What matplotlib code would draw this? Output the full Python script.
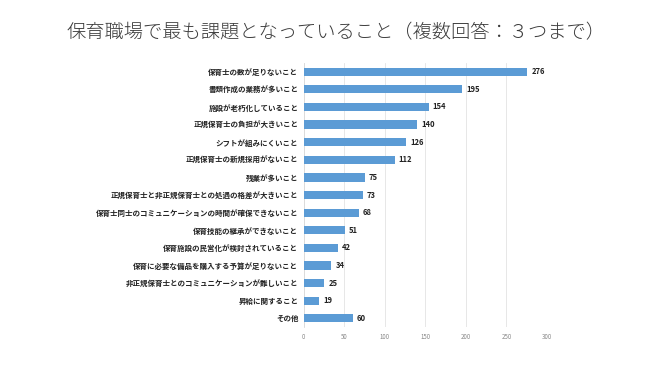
import matplotlib.pyplot as plt

plt.rcParams['font.family'] = ['Noto Sans CJK JP', 'DejaVu Sans']

# データ
items = [
    '保育士の数が足りないこと',
    '書類作成の業務が多いこと',
    '施設が老朽化していること',
    '正規保育士の負担が大きいこと',
    'シフトが組みにくいこと',
    '正規保育士の新規採用がないこと',
    '残業が多いこと',
    '正規保育士と非正規保育士との処遇の格差が大きいこと',
    '保育士同士のコミュニケーションの時間が確保できないこと',
    '保育技能の継承ができないこと',
    '保育施設の民営化が検討されていること',
    '保育に必要な備品を購入する予算が足りないこと',
    '非正規保育士とのコミュニケーションが難しいこと',
    '昇給に関すること',
    'その他',
]
counts = [276, 195, 154, 140, 126, 112, 75, 73, 68, 51, 42, 34, 25, 19, 60]
xticks = [0, 50, 100, 150, 200, 250, 300]

fig = plt.figure(figsize=(6.55, 3.68), dpi=100)
ax = fig.add_axes([0.464, 0.111, 0.371, 0.718])

y = list(range(len(items)))
ax.barh(y, counts, height=0.47, color='#5B9BD5', zorder=3)
for yi, v in zip(y, counts):
    ax.text(v + 5, yi, str(v), va='center', ha='left', fontsize=5.5,
            fontweight='bold', color='#222222')

ax.set_ylim(len(items) - 0.5, -0.5)
ax.set_xlim(0, 300)
ax.set_xticks(xticks)
ax.set_xticklabels([str(t) for t in xticks], fontsize=4.4, color='#888888')
ax.set_yticks(y)
ax.set_yticklabels(items, fontsize=5.4, fontweight='bold', color='#222222')
ax.tick_params(axis='both', length=0, pad=4)
ax.grid(axis='x', color='#e3e3e3', linewidth=0.6, zorder=0)
for s in ['top', 'right', 'bottom']:
    ax.spines[s].set_visible(False)
ax.spines['left'].set_color('#d9d9d9')
ax.spines['left'].set_linewidth(0.6)

fig.text(0.513, 0.91, '保育職場で最も課題となっていること（複数回答：３つまで）',
         ha='center', va='center', fontsize=13.9, color='#3a3a3a',
         fontweight='light')

fig.savefig('out.png', dpi=100)
